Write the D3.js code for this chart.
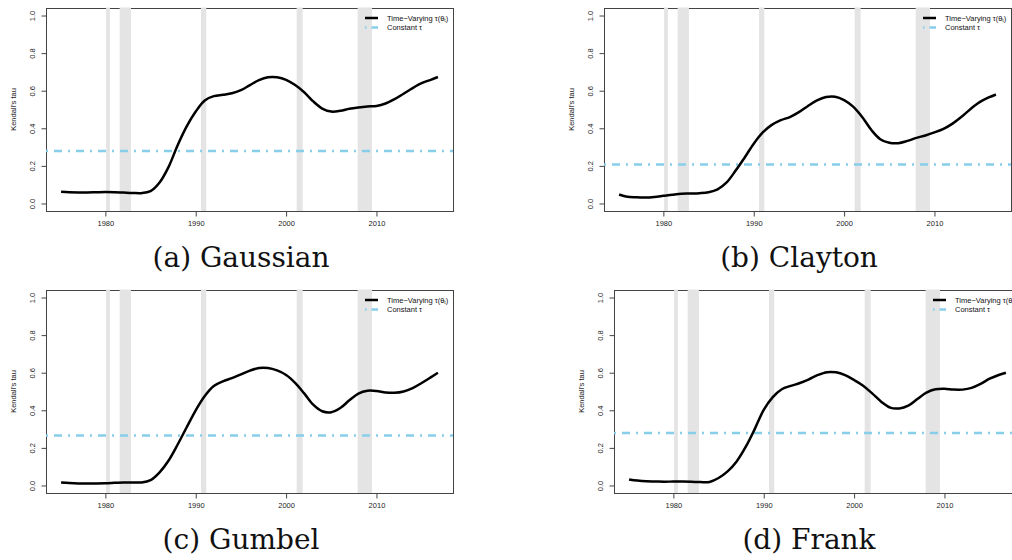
<!DOCTYPE html>
<html>
<head>
<meta charset="utf-8">
<script src="https://cdn.jsdelivr.net/npm/d3@7"></script>
<style>
  body { margin: 0; background: #fff; }
  svg { display: block; font-family: "Liberation Sans", Arial, sans-serif; }
</style>
</head>
<body>
<div id="chart"></div>
<script>

// Time points of the estimated path
var years = [1975.1, 1976, 1977, 1978, 1979, 1980, 1981, 1982, 1983, 1984,
    1985, 1986, 1987, 1988, 1989, 1990, 1991, 1992, 1993, 1994,
    1995, 1996, 1997, 1998, 1999, 2000, 2001, 2002, 2003, 2004,
    2005, 2006, 2007, 2008, 2009, 2010, 2011, 2012, 2013, 2014,
    2015, 2016, 2016.8];

// Time-varying Kendall's tau for each copula
var gaussianTau = [0.062, 0.060, 0.059, 0.059, 0.060, 0.061, 0.060, 0.058, 0.056, 0.055,
    0.066, 0.112, 0.195, 0.310, 0.410, 0.489, 0.548, 0.571, 0.578, 0.586,
    0.603, 0.630, 0.656, 0.671, 0.671, 0.658, 0.630, 0.592, 0.543, 0.505,
    0.489, 0.493, 0.504, 0.511, 0.516, 0.519, 0.532, 0.555, 0.584, 0.614,
    0.640, 0.658, 0.673];

var claytonTau = [0.048, 0.036, 0.033, 0.032, 0.035, 0.041, 0.047, 0.052, 0.053, 0.055,
    0.060, 0.075, 0.112, 0.175, 0.245, 0.318, 0.378, 0.418, 0.443, 0.460,
    0.486, 0.519, 0.548, 0.566, 0.568, 0.550, 0.515, 0.460, 0.392, 0.342,
    0.323, 0.321, 0.333, 0.349, 0.362, 0.378, 0.397, 0.425, 0.461, 0.503,
    0.539, 0.564, 0.580];

var gumbelTau = [0.016, 0.013, 0.011, 0.011, 0.011, 0.012, 0.014, 0.016, 0.016, 0.016,
    0.028, 0.070, 0.133, 0.218, 0.310, 0.400, 0.476, 0.529, 0.554, 0.571,
    0.591, 0.611, 0.625, 0.625, 0.612, 0.588, 0.546, 0.490, 0.430, 0.395,
    0.390, 0.412, 0.453, 0.489, 0.504, 0.503, 0.495, 0.493, 0.500, 0.518,
    0.545, 0.575, 0.600];

var frankTau = [0.032, 0.026, 0.022, 0.021, 0.020, 0.021, 0.021, 0.020, 0.018, 0.019,
    0.040, 0.075, 0.128, 0.205, 0.300, 0.402, 0.470, 0.512, 0.530, 0.545,
    0.565, 0.588, 0.603, 0.602, 0.587, 0.561, 0.531, 0.490, 0.446, 0.414,
    0.410, 0.425, 0.460, 0.494, 0.512, 0.515, 0.510, 0.510, 0.519, 0.540,
    0.568, 0.588, 0.600];

// Constant Kendall's tau for each copula
var constantTau = [0.279, 0.208, 0.266, 0.279];

var captions = ["(a) Gaussian", "(b) Clayton", "(c) Gumbel", "(d) Frank"];

// Recession periods (shaded)
var recessionStart = [1980.08, 1981.58, 1990.58, 2001.17, 2007.92];
var recessionEnd = [1980.5, 1982.83, 1991.17, 2001.83, 2009.5];

var xTicks = [1980, 1990, 2000, 2010];
var yTicks = [0, 0.2, 0.4, 0.6, 0.8, 1.0];
var yTickLabels = ["0.0", "0.2", "0.4", "0.6", "0.8", "1.0"];

var width = 1012;
var height = 560;

var boxWidth = 407;
var boxHeight = 203;

// top-left corner of each plot box
var panelLeft = [46, 604, 46, 614];
var panelTop = [8, 8, 290, 290];

var allSeries = [gaussianTau, claytonTau, gumbelTau, frankTau];

// Create the SVG container.
const svg = d3.select("#chart").append("svg")
    .attr("width", width)
    .attr("height", height);

svg.append("rect")
    .attr("width", width)
    .attr("height", height)
    .attr("fill", "#fff");

allSeries.forEach(function(series, i) {

    var left = panelLeft[i];
    var top = panelTop[i];

    var x = d3.scaleLinear()
        .domain([1973.43, 2018.47])
        .range([left, left + boxWidth]);

    var y = d3.scaleLinear()
        .domain([-0.04, 1.04])
        .range([top + boxHeight, top]);

    const g = svg.append("g");

    // plot box
    g.append("rect")
        .attr("x", left + 0.5)
        .attr("y", top + 0.5)
        .attr("width", boxWidth)
        .attr("height", boxHeight)
        .attr("fill", "none")
        .attr("stroke", "#444")
        .attr("stroke-width", 1);

    // recession bands
    g.selectAll("rect.band")
        .data(recessionStart)
        .join("rect")
        .attr("class", "band")
        .attr("x", d => x(d))
        .attr("width", (d, j) => x(recessionEnd[j]) - x(d))
        .attr("y", top - 0.5)
        .attr("height", boxHeight + 0.5)
        .attr("fill", "#e4e4e4");

    // x-axis
    const gx = g.append("g")
        .attr("transform", `translate(0,${top + boxHeight + 0.5})`)
        .call(d3.axisBottom(x).tickValues(xTicks).tickFormat(d3.format("d")).tickSize(5).tickPadding(4));
    gx.select(".domain").attr("d", `M${x(1980)},0H${x(2010)}`).attr("stroke", "#444");
    gx.selectAll(".tick line").attr("stroke", "#444");
    gx.selectAll("text")
        .attr("font-size", 7.5)
        .attr("font-family", "Liberation Sans, Arial, sans-serif")
        .attr("fill", "#222");

    // y-axis
    const gy = g.append("g")
        .attr("transform", `translate(${left + 0.5},0)`)
        .call(d3.axisLeft(y).tickValues(yTicks).tickFormat((d, j) => yTickLabels[j]).tickSize(5));
    gy.select(".domain").attr("stroke", "#444").attr("d", `M0,${y(0)}V${y(1)}`);
    gy.selectAll(".tick line").attr("stroke", "#444");
    gy.selectAll("text")
        .attr("font-size", 7.5)
        .attr("font-family", "Liberation Sans, Arial, sans-serif")
        .attr("fill", "#222")
        .attr("x", null)
        .attr("dy", null)
        .attr("text-anchor", "middle")
        .attr("dominant-baseline", "central")
        .attr("transform", "translate(-14,0) rotate(-90)");

    // y label
    g.append("text")
        .attr("transform", `translate(${left - 33},${top + boxHeight / 2}) rotate(-90)`)
        .attr("text-anchor", "middle")
        .attr("dominant-baseline", "central")
        .attr("font-size", 7.5)
        .attr("fill", "#222")
        .text("Kendall's tau");

    // constant tau
    g.append("line")
        .attr("x1", left)
        .attr("x2", left + boxWidth)
        .attr("y1", y(constantTau[i]))
        .attr("y2", y(constantTau[i]))
        .attr("stroke", "#87ceeb")
        .attr("stroke-width", 2.5)
        .attr("stroke-dasharray", "2,6,8,6");

    // time-varying tau
    var line = d3.line()
        .x((d, j) => x(years[j]))
        .y(d => y(d))
        .curve(d3.curveCatmullRom.alpha(0.5));

    g.append("path")
        .datum(series)
        .attr("d", line)
        .attr("fill", "none")
        .attr("stroke", "#000")
        .attr("stroke-width", 2.5)
        .attr("stroke-linejoin", "round");

    // legend
    var lx = left + boxWidth - 88;
    var ly = top + 10;

    g.append("line")
        .attr("x1", lx).attr("x2", lx + 13)
        .attr("y1", ly).attr("y2", ly)
        .attr("stroke", "#000")
        .attr("stroke-width", 2.5);

    g.append("line")
        .attr("x1", lx).attr("x2", lx + 13)
        .attr("y1", ly + 9.5).attr("y2", ly + 9.5)
        .attr("stroke", "#87ceeb")
        .attr("stroke-width", 2.5)
        .attr("stroke-dasharray", "1.5,5,8,6");

    var t1 = g.append("text")
        .attr("x", lx + 22)
        .attr("y", ly)
        .attr("dominant-baseline", "central")
        .attr("font-size", 7.5)
        .attr("fill", "#111");
    t1.append("tspan").text("Time\u2212Varying \u03c4(\u03b8");
    t1.append("tspan").attr("font-size", 5).attr("dy", 2).text("t");
    t1.append("tspan").attr("dy", -2).text(")");

    g.append("text")
        .attr("x", lx + 22)
        .attr("y", ly + 9.5)
        .attr("dominant-baseline", "central")
        .attr("font-size", 7.5)
        .attr("fill", "#111")
        .text("Constant \u03c4");

    // caption under the panel
    g.append("text")
        .attr("x", left + 195)
        .attr("y", top + 259)
        .attr("text-anchor", "middle")
        .attr("font-family", "DejaVu Serif, serif")
        .attr("font-size", 28)
        .attr("fill", "#111")
        .text(captions[i]);
});

</script>
</body>
</html>
